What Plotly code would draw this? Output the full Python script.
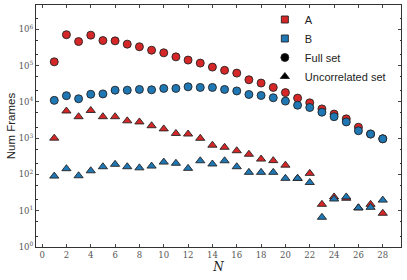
import plotly.graph_objects as go

N = list(range(1, 29))

a_full = [1.27e5, 7.1e5, 4.6e5, 6.9e5, 4.9e5, 4.8e5, 3.9e5, 3.3e5, 2.65e5, 2.25e5,
          1.74e5, 1.42e5, 1.17e5, 9.1e4, 7.4e4, 6.2e4, 4.07e4, 3.3e4, 2.5e4, 1.8e4,
          1.27e4, 9.4e3, 6.4e3, 4.6e3, 3.4e3, 2.0e3, 1.3e3, 960]
b_full = [1.1e4, 1.48e4, 1.22e4, 1.62e4, 1.66e4, 2.1e4, 2.1e4, 2.2e4, 2.15e4, 2.35e4,
          2.35e4, 2.6e4, 2.5e4, 2.5e4, 2.2e4, 2.0e4, 1.6e4, 1.5e4, 1.3e4, 1.05e4,
          8.1e3, 7.0e3, 5.2e3, 3.9e3, 2.8e3, 1.6e3, 1.3e3, 960]
a_unc = [1000, 5600, 3900, 5800, 3900, 3900, 3000, 2800, 2200, 1800,
         1350, 1300, 990, 640, 560, 450, 360, 265, 240, 180,
         78, 107, 15, 24, 22, 12, 15, 8.5]
b_unc = [90, 144, 92, 126, 163, 190, 163, 152, 170, 219,
         203, 147, 238, 194, 238, 163, 114, 114, 114, 78,
         78, 60, 6.6, 21, 24, 12, 12.4, 19.6]

x_ticks = list(range(0, 29, 2))
y_tickvals = [1, 10, 100, 1000, 1e4, 1e5, 1e6]
y_ticktext = ["10<sup>%d</sup>" % i for i in range(7)]

RED = "#d62728"
BLUE = "#1f77b4"
line = dict(color="#222222", width=0.9)

fig = go.Figure()
for y, col, sym in [(a_full, RED, "circle"), (b_full, BLUE, "circle"),
                    (a_unc, RED, "triangle-up"), (b_unc, BLUE, "triangle-up")]:
    fig.add_trace(go.Scatter(x=N, y=y, mode="markers", showlegend=False,
                             marker=dict(symbol=sym, color=col, size=8, line=line)))

for name, col, sym, sz in [("A", RED, "square", 7), ("B", BLUE, "square", 7),
                           ("Full set", "black", "circle", 8),
                           ("Uncorrelated set", "black", "triangle-up", 8)]:
    fig.add_trace(go.Scatter(x=[None], y=[None], mode="markers", name=name,
                             marker=dict(symbol=sym, color=col, size=sz, line=line)))

serif = "DejaVu Serif"
fig.update_layout(
    width=407, height=280,
    margin=dict(l=36, r=6, t=5, b=33),
    plot_bgcolor="white", paper_bgcolor="white",
    legend=dict(x=0.627, y=1.0, xanchor="left", yanchor="top",
                font=dict(family="Liberation Sans", size=11, color="#222"),
                bgcolor="rgba(0,0,0,0)", itemsizing="trace"),
    xaxis=dict(range=[-0.5, 29.5], tickvals=x_ticks, ticks="inside", ticklen=3,
               showline=True, linecolor="#333", linewidth=1, mirror="ticks",
               showgrid=False, zeroline=False, automargin=False,
               tickfont=dict(family=serif, size=8.5, color="#555"),
               title=dict(text="<i>N</i>", font=dict(family=serif, size=12, color="#222"), standoff=2)),
    yaxis=dict(type="log", range=[0, 6.67], tickvals=y_tickvals, ticktext=y_ticktext,
               ticks="inside", ticklen=3, showline=True, linecolor="#333", linewidth=1,
               mirror="ticks", showgrid=False, zeroline=False, automargin=False,
               minor=dict(ticks="inside", ticklen=1.5, tickcolor="#333", showgrid=False),
               tickfont=dict(family=serif, size=8.5, color="#555"),
               title=dict(text="Num Frames", font=dict(family="Liberation Sans", size=11.5, color="#222"), standoff=0)),
)

fig.write_html("out.html", config={"displayModeBar": False},
               post_script="document.body.style.margin='0';")
